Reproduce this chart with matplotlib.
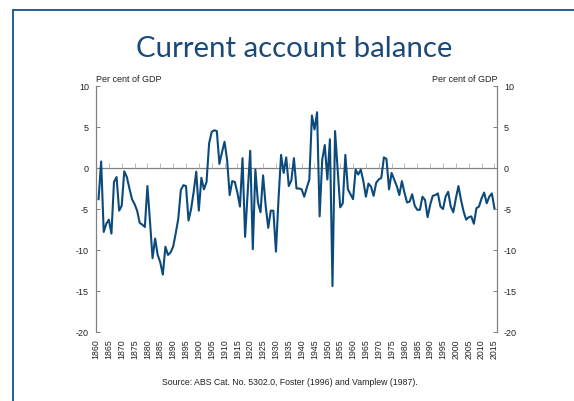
import numpy as np
import matplotlib
matplotlib.use("Agg")
import matplotlib.pyplot as plt
from matplotlib.lines import Line2D

# Current account balance, per cent of GDP, 1861-2015
years = list(range(1861, 2016))
balance = [
    # 1861-1870
    -3.8, 0.8, -7.8, -6.8, -6.3, -8.0, -1.7, -1.1, -5.2, -4.6,
    # 1871-1880
    -0.4, -1.1, -2.5, -3.8, -4.4, -5.2, -6.7, -6.9, -7.2, -2.2,
    # 1881-1890
    -6.5, -11.0, -8.6, -10.6, -11.5, -13.0, -9.6, -10.6, -10.3, -9.6,
    # 1891-1900
    -8.0, -6.2, -2.7, -2.1, -2.2, -6.4, -5.0, -2.9, -0.45, -5.2,
    # 1901-1910
    -1.2, -2.6, -1.7, 3.0, 4.4, 4.6, 4.5, 0.5, 1.9, 3.2,
    # 1911-1920
    1.0, -3.3, -1.6, -1.7, -3.0, -4.7, 1.2, -8.4, -3.0, 2.1,
    # 1921-1930
    -9.9, -0.2, -4.2, -5.4, -0.9, -4.6, -7.3, -5.2, -5.2, -10.2,
    # 1931-1940
    -3.8, 1.6, -0.6, 1.3, -2.2, -1.5, 1.2, -2.5, -2.5, -2.6,
    # 1941-1950
    -3.5, -2.4, -1.4, 6.4, 4.7, 6.8, -5.9, 1.0, 2.8, -1.4,
    # 1951-1960
    3.5, -14.4, 4.5, -0.2, -4.8, -4.3, 1.6, -2.6, -3.2, -3.8,
    # 1961-1970
    -0.2, -0.8, -0.2, -1.6, -3.5, -1.9, -2.3, -3.4, -1.8, -1.4,
    # 1971-1980
    -1.2, 1.3, 1.1, -2.6, -0.6, -1.4, -2.2, -3.3, -1.6, -3.0,
    # 1981-1990
    -4.2, -4.1, -3.2, -4.6, -5.1, -5.1, -3.5, -3.9, -6.0, -4.5,
    # 1991-2000
    -3.4, -3.3, -3.1, -4.7, -5.0, -3.5, -2.9, -4.7, -5.4, -3.7,
    # 2001-2010
    -2.2, -3.9, -5.3, -6.3, -6.0, -5.9, -6.8, -4.9, -4.7, -3.7,
    # 2011-2015
    -3.0, -4.3, -3.5, -3.1, -4.9,
]

x_ticks = list(range(1860, 2016, 5))
y_ticks = [-20, -15, -10, -5, 0, 5, 10]
title = "Current account balance"
unit_label = "Per cent of GDP"
source = "Source: ABS Cat. No. 5302.0, Foster (1996) and Vamplew (1987)."

line_color = "#0c4a7c"
axis_gray = "#808080"
title_color = "#1b4a78"
frame_color = "#235d98"
text_font = ["Liberation Sans", "DejaVu Sans"]

fig = plt.figure(figsize=(5.74, 4.02), dpi=100)
W, H = 574, 402

# slide frame: top and left rules
fig.add_artist(Line2D([13 / W, 1.0], [1 - 11 / H, 1 - 11 / H], color=frame_color,
                      lw=1.4, transform=fig.transFigure))
fig.add_artist(Line2D([13 / W, 13 / W], [1 - 11 / H, 0.0], color=frame_color,
                      lw=1.4, transform=fig.transFigure))

fig.text(294 / W, 1 - 57 / H, title, ha="center", va="baseline",
         fontsize=21.2, color=title_color, family=["Lato", "DejaVu Sans"])

ax = fig.add_axes([96 / W, 1 - 333 / H, (497 - 96) / W, (333 - 87) / H])
ax.set_xlim(1860, 2016)
ax.set_ylim(-20, 10)

for side in ("top", "bottom"):
    ax.spines[side].set_visible(False)
for side in ("left", "right"):
    ax.spines[side].set_color(axis_gray)
    ax.spines[side].set_linewidth(0.9)

# zero line with 5-year tick marks pointing up
ax.axhline(0, color=axis_gray, lw=0.9, zorder=1)
ax.plot(x_ticks, np.zeros(len(x_ticks)), linestyle="none", marker=2,
        markersize=3.5, markeredgewidth=0.6, color="#b0b0b0", zorder=1)

ax.plot(years, balance, color=line_color, lw=1.5, zorder=3)

ax.set_xticks(x_ticks)
ax.set_xticklabels([str(y) for y in x_ticks], rotation=90, fontsize=6.3,
                   family=text_font, color="#222222")
ax.tick_params(axis="x", length=0, pad=4.5)

ax.set_yticks(y_ticks)
ax.set_yticklabels([str(v) for v in y_ticks], fontsize=6.5, family=text_font,
                   color="#222222")
ax.tick_params(axis="y", direction="in", length=3, width=0.7, color=axis_gray,
               left=True, right=True, labelleft=True, labelright=True)
ax.tick_params(axis="y", which="major", pad=5)

ax.text(0.0, 1.012, unit_label, transform=ax.transAxes, ha="left", va="bottom",
        fontsize=6.5, family=text_font, color="#222222")
ax.text(1.0, 1.012, unit_label, transform=ax.transAxes, ha="right", va="bottom",
        fontsize=6.5, family=text_font, color="#222222")

fig.text(290 / W, 1 - 383 / H, source, ha="center", va="center",
         fontsize=6.3, family=text_font, color="#222222")

fig.savefig("out.png", dpi=100)
